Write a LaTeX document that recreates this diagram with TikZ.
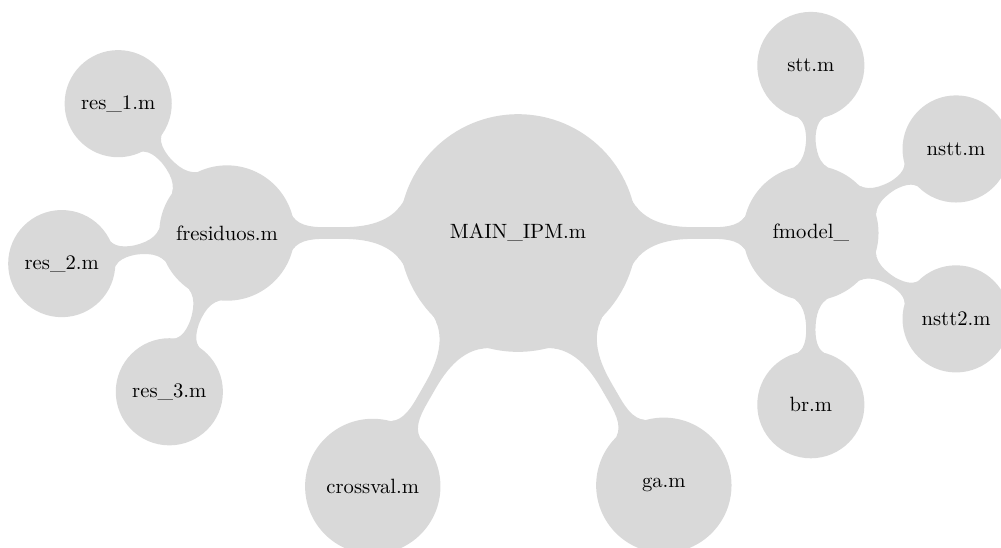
\documentclass[tikz,border=0pt]{standalone}
\usepackage{tikz}
\usetikzlibrary{mindmap}
\tikzset{rootc/.style={concept,minimum size=4cm,text width=3.6cm,align=center,font=\normalsize},
 onec/.style={concept,minimum size=2.26cm,text width=2cm,align=center,font=\normalsize},
 twoc/.style={concept,minimum size=1.78cm,text width=1.6cm,align=center,font=\normalsize},
 bar/.style={circle connection bar switch color=from (black!15) to (black!15)}}
\begin{document}
\begin{tikzpicture}[mindmap,concept color=black!15,text=black]
\useasboundingbox (-8.81,-5.34) rectangle (8.214,3.963);
\node[rootc](main) at (0,0){MAIN\_IPM.m};
\node[onec](fres) at (-4.95,0){fresiduos.m};\node[onec](fmod) at (4.98,0){fmodel\_};
\node[onec](cross) at (-2.47,-4.31){crossval.m};\node[onec](ga) at (2.48,-4.29){ga.m};
\node[twoc](res1) at (-6.8,2.2){res\_1.m};\node[twoc](res2) at (-7.76,-0.52){res\_2.m};
\node[twoc](res3) at (-5.93,-2.7){res\_3.m};
\node[twoc](stt) at (4.98,2.85){stt.m};\node[twoc](nstt) at (7.45,1.43){nstt.m};
\node[twoc](nsttb) at (7.45,-1.46){nstt2.m};\node[twoc](br) at (4.98,-2.92){br.m};
\path (main) to[bar] (fres);\path (main) to[bar] (fmod);
\path (main) to[bar] (cross);\path (main) to[bar] (ga);
\path (fres) to[bar] (res1);\path (fres) to[bar] (res2);\path (fres) to[bar] (res3);
\path (fmod) to[bar] (stt);\path (fmod) to[bar] (nstt);
\path (fmod) to[bar] (nsttb);\path (fmod) to[bar] (br);
\end{tikzpicture}
\end{document}
